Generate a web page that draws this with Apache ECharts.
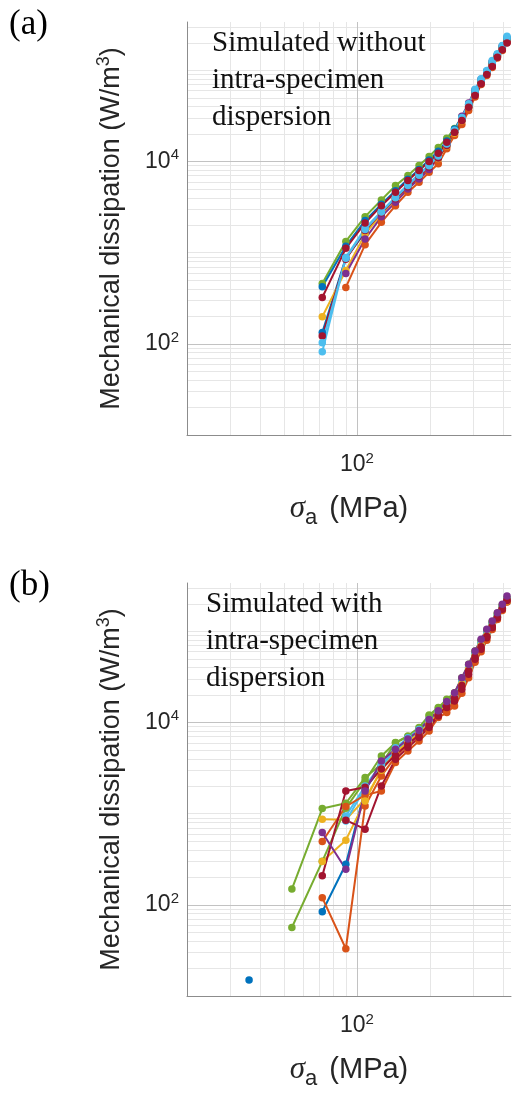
<!DOCTYPE html>
<html><head><meta charset="utf-8">
<script src="https://cdn.jsdelivr.net/npm/echarts@6/dist/echarts.min.js"></script>
<style>html,body{margin:0;padding:0;background:#fff}#c{width:514px;height:1099px}</style>
</head><body><div id="c"></div>
<script>
// ---------------- data ----------------
const stress = [36, 54, 72, 90, 108, 126, 144, 162, 180, 198, 216, 234, 252, 270, 288, 306, 324, 342, 360, 378, 396, 414];

// panel (a): simulated without intra-specimen dispersion
const a1 = [null, null, 133, 880, 1672, 2750, 3950, 5400, 7000, 8800, 11000, 15000, 21000, 28500, 40000, 56000, 75000, 94000, 118000, 145000, 178000, 218000];
const a2 = [null, null, null, 416, 1225, 2155, 3285, 4603, 5925, 7625, 9440, 13800, 19300, 25500, 36350, 51000, 70000, 88000, 108000, 137000, 166000, 202000];
const a3 = [null, null, 198, 640, 1600, 2650, 3850, 5250, 6800, 8600, 10800, 14800, 20500, 28000, 39500, 55500, 74000, 93000, 116000, 143000, 175000, 212000];
const a4 = [null, null, null, 593, 1413, 2488, 3570, 5012, 6457, 8169, 11000, 15500, 22500, 31500, 44000, 61500, 80000, 98000, 125000, 150000, 186000, 226000];
const a5 = [null, null, 460, 1330, 2488, 3795, 5448, 7020, 9040, 11350, 14300, 18000, 23000, 30000, 42000, 58000, 77000, 96000, 120000, 147000, 180000, 222000];
const a6 = [null, null, 82, 889, 1850, 2844, 4100, 5600, 7300, 9200, 11800, 16000, 22000, 30500, 43000, 62000, 81100, 100000, 128800, 152700, 188300, 236600];
const a7 = [null, null, 323, 1117, 2118, 3282, 4603, 6182, 7964, 10000, 12330, 16300, 20990, 28220, 39530, 53100, 71400, 90360, 110600, 139900, 168700, 199500];
const a8 = [null, null, 423, 1180, 2250, 3400, 4800, 6400, 8200, 10400, 13000, 16800, 22800, 30500, 42500, 60000, 79000, 98000, 124000, 150000, 184000, 230000];
const a9 = [null, null, 122, 850, 1750, 2750, 3900, 5300, 6900, 8700, 11000, 15000, 21000, 28500, 40000, 55000, 74000, 93000, 115000, 142000, 172000, 205000];
const a10 = [null, null, 103, 870, 1800, 2800, 4000, 5450, 7100, 9000, 11500, 15600, 21600, 29500, 41500, 58500, 78000, 97000, 122000, 149000, 182000, 224000];

// panel (b): simulated with intra-specimen dispersion
const b1 = [15, null, 84, 279, 1857, 3300, 5100, 6600, 8200, 10400, 12870, 16570, 19600, 27500, 40100, 56100, 72200, 92900, 119600, 147600, 182300, 215400];
const b2 = [null, null, 120, 33, 1218, 2600, 4200, 5800, 7400, 9500, 12000, 15000, 19000, 26000, 37000, 52000, 68000, 88000, 112000, 140000, 176000, 212000];
const b3 = [null, null, 871, 860, 1450, 3000, 4700, 6300, 7800, 10000, 12870, 16000, 20000, 27500, 40000, 55000, 72000, 92000, 118000, 146000, 182000, 220000];
const b4 = [null, null, 622, 246, 1778, 3793, 5100, 6600, 8200, 10800, 13500, 17000, 21300, 31100, 43600, 61000, 81900, 105400, 130000, 160700, 198300, 244500];
const b5 = [null, 149, 1140, 1303, 2495, 3500, 6030, 7140, 8810, 12100, 14600, 17990, 21300, 31100, 43600, 61000, 80000, 104000, 128000, 158000, 195000, 234000];
const b6 = [null, null, null, 946, 2018, 3486, 5300, 6800, 8400, 10800, 13200, 16800, 20000, 28000, 41000, 57000, 74000, 95000, 122000, 150000, 186000, 226000];
const b7 = [null, null, 208, 1778, 1950, 3100, 4400, 5800, 7300, 9400, 12000, 15200, 18500, 25500, 37000, 52500, 68000, 88000, 113000, 142000, 178000, 220000];
const b8 = [null, null, null, 834, 1900, 3300, 5000, 6500, 8100, 10300, 12800, 16300, 19500, 27000, 39500, 55500, 71000, 91000, 117000, 145000, 180000, 214000];
const b9 = [null, null, 495, 1200, 1600, 1778, 3650, 4880, 6283, 8090, 11340, 12870, 15200, 21000, 31000, 46000, 60000, 80000, 105000, 135000, 170000, 210000];
const b11 = [null, 56.5, 300, 1150, 2300, 4300, 6000, 7000, 8600, 11800, 14300, 17500, 20800, 30000, 42500, 59500, 78000, 101000, 126000, 156000, 192000, 230000];
const b10 = [null, null, 299, 513, 1380, 3080, 4600, 6100, 7600, 9800, 12500, 15800, 19000, 26500, 38500, 54000, 70000, 90000, 116000, 144000, 178000, 216000];
const b12 = [null, null, null, 850, 676, 2018, 3960, 5320, 6850, 8810, 11810, 14600, 17300, 23200, 33900, 49400, 63600, 85500, 110000, 140000, 175000, 218000];

// tick labels / grid values
const xTickValues = [100];
const yTickValues = [100, 10000];
const xMajorGrid = [100];
const xMinorGrid = [30, 40, 50, 60, 70, 80, 90, 200, 300, 400];
const yMajorGrid = [100, 10000];
const yMinorGrid = [20, 30, 40, 50, 60, 70, 80, 90, 200, 300, 400, 500, 600, 700, 800, 900, 1000,
  2000, 3000, 4000, 5000, 6000, 7000, 8000, 9000, 20000, 30000, 40000, 50000, 60000, 70000, 80000, 90000,
  100000, 200000, 300000];

const panelLabels = ['(a)', '(b)'];
const panelNotes = ['Simulated without\nintra-specimen\ndispersion', 'Simulated with\nintra-specimen\ndispersion'];

// ---------------- styles ----------------
const C = {blue:'#0072BD', orange:'#D95319', yellow:'#EDB120', purple:'#7E2F8E', green:'#77AC30', lblue:'#4DBEEE', dred:'#A2142F'};
const panelA = [[a1,C.blue],[a2,C.orange],[a3,C.yellow],[a4,C.purple],[a5,C.green],[a8,C.blue],[a9,C.dred],[a10,C.lblue],[a6,C.lblue],[a7,C.dred]];
const panelB = [[b1,C.blue],[b2,C.orange],[b3,C.yellow],[b11,C.green],[b5,C.green],[b6,C.lblue],[b8,C.lblue],[b9,C.orange],[b10,C.yellow],[b12,C.dred],[b7,C.dred],[b4,C.purple]];

const SANS = 'Liberation Sans, Arial, sans-serif';
const SERIF = 'Liberation Serif, Times New Roman, serif';
const TXT = '#262626';

function near(v, t){ return Math.abs(Math.log10(v) - Math.log10(t)) < 1e-6; }
function powLabel(v, list){
  for (const t of list) if (near(v, t)) return '{b|10}{s|' + Math.round(Math.log10(t)) + '}';
  return '';
}
const tickRich = {
  b:{fontSize:23, fontFamily:SANS, color:TXT, lineHeight:28},
  s:{fontSize:15, fontFamily:SANS, color:TXT, lineHeight:15, verticalAlign:'top'}
};

const grids = [
  {left:187, top:22, width:326, height:413},
  {left:187, top:583, width:326, height:413}
];

const xAxes = grids.map((g,i)=>({
  type:'log', gridIndex:i, min:20, max:430, logBase:10, z:4,
  axisLine:{show:true, onZero:false, lineStyle:{color:'#8c8c8c', width:1}},
  axisTick:{show:false}, splitLine:{show:false}, minorSplitLine:{show:false},
  axisLabel:{show:true, margin:16, formatter:v=>powLabel(v, xTickValues), rich:tickRich},
  name:'{i|σ}{sub|a} (MPa)', nameLocation:'middle', nameGap:54,
  nameTextStyle:{fontSize:29, fontFamily:SANS, color:TXT, lineHeight:40,
    rich:{i:{fontSize:31, fontFamily:SERIF, fontStyle:'italic', color:TXT, lineHeight:40},
          sub:{fontSize:22, fontFamily:SANS, color:TXT, lineHeight:22, verticalAlign:'bottom', padding:[0,4,0,0]}}}
}));
const yAxes = grids.map((g,i)=>({
  type:'log', gridIndex:i, min:10, max:340000, logBase:10, z:4,
  axisLine:{show:true, onZero:false, lineStyle:{color:'#8c8c8c', width:1}},
  axisTick:{show:false}, splitLine:{show:false},
  axisLabel:{show:true, margin:8, formatter:v=>powLabel(v, yTickValues), rich:tickRich},
  name:'Mechanical dissipation (W/m{sup|3})', nameLocation:'middle', nameGap:58, nameRotate:90,
  nameTextStyle:{fontSize:27, fontFamily:SANS, color:TXT, lineHeight:34,
    rich:{sup:{fontSize:18, fontFamily:SANS, color:TXT, lineHeight:18, verticalAlign:'top'}}}
}));

const series = [];
grids.forEach((g,i)=>{
  const ml = [];
  xMinorGrid.forEach(v=>ml.push({xAxis:v, lineStyle:{color:'#e6e6e6', width:1, type:'solid'}}));
  yMinorGrid.forEach(v=>ml.push({yAxis:v, lineStyle:{color:'#e6e6e6', width:1, type:'solid'}}));
  xMajorGrid.forEach(v=>ml.push({xAxis:v, lineStyle:{color:'#c2c2c2', width:1, type:'solid'}}));
  yMajorGrid.forEach(v=>ml.push({yAxis:v, lineStyle:{color:'#c2c2c2', width:1, type:'solid'}}));
  series.push({type:'line', xAxisIndex:i, yAxisIndex:i, data:[], z:0, zlevel:0, silent:true,
    markLine:{silent:true, z:0, zlevel:0, symbol:['none','none'], label:{show:false}, animation:false, data:ml}});
  const set = i === 0 ? panelA : panelB;
  set.forEach(([ys,col])=>{
    series.push({type:'line', xAxisIndex:i, yAxisIndex:i, z:3,
      data: stress.map((x,k)=>[x, ys[k] == null ? '-' : ys[k]]),
      symbol:'circle', symbolSize:7.5, showSymbol:true, connectNulls:false,
      itemStyle:{color:col}, lineStyle:{color:col, width:2}, emphasis:{disabled:true}});
  });
});

const graphic = [];
grids.forEach((g,i)=>{
  graphic.push({type:'text', left:9, top:g.top - 15, z:20,
    style:{text:panelLabels[i], font:'35px ' + SERIF, fill:'#000'}});
  graphic.push({type:'text', left:i === 0 ? 212 : 206, top:g.top + 3, z:20,
    style:{text:panelNotes[i], font:'29px ' + SERIF, fill:'#111', lineHeight:37}});
});

const chart = echarts.init(document.getElementById('c'), null, {renderer:'canvas'});
chart.setOption({
  animation:false, backgroundColor:'#fff',
  grid:grids, xAxis:xAxes, yAxis:yAxes, series:series, graphic:graphic
});
</script></body></html>
